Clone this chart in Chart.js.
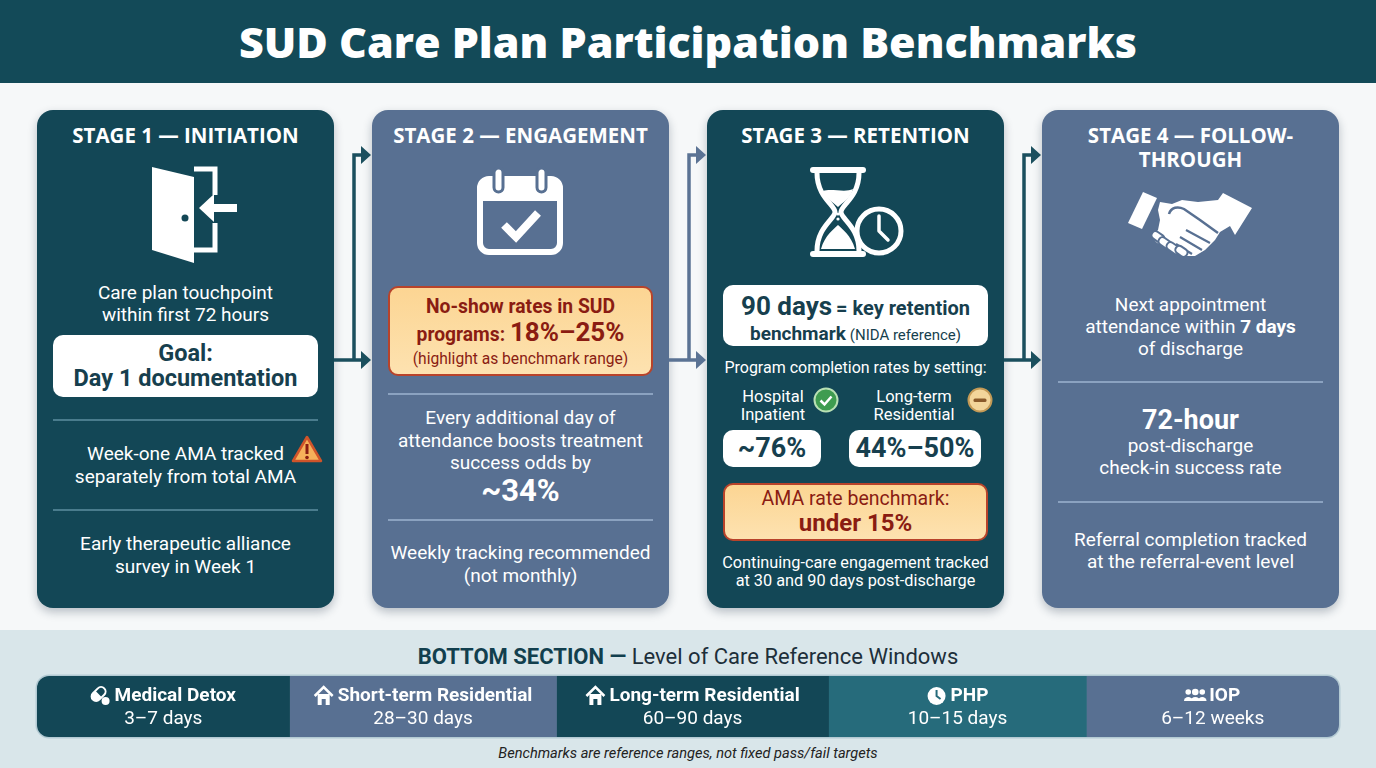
<!DOCTYPE html>
<html>
<head>
<meta charset="utf-8">
<script src="https://cdn.jsdelivr.net/npm/chart.js@4.4.1/dist/chart.umd.min.js"></script>
<style>
  body { margin:0; width:1376px; height:768px; background:#f6f8f9; font-family:Roboto, "Noto Sans", sans-serif; position:relative; overflow:hidden; }
  .header { position:absolute; left:0; top:0; width:1376px; height:83px; background:#134a58; }
  .title { color:#fff; font:800 43px "Open Sans", sans-serif; text-align:center; line-height:84px; }
  .card { position:absolute; top:110px; width:297px; height:498px; border-radius:16px; box-shadow:0 4px 10px rgba(20,40,60,.28); color:#fff; }
  .dark { background:#134756; }
  .slate { background:#587092; }
  .t { position:absolute; left:0; width:100%; text-align:center; }
  .head { font:700 20.5px "Open Sans", sans-serif; line-height:24px; top:13px; }
  .body { font-size:19px; line-height:22px; }
  .rule { position:absolute; left:16px; width:265px; height:2px; }
  .dark .rule { background:#4a7c8d; }
  .slate .rule { background:#8ba2c0; }
  .box { position:absolute; left:16px; width:265px; border-radius:10px; text-align:center; }
  .white { background:#fff; color:#173f4e; }
  .orange { background:linear-gradient(#fcd593, #fde2b0); border:2.5px solid #b8432a; color:#8a1c12; box-sizing:border-box; }
  .band { position:absolute; left:0; top:630px; width:1376px; height:138px; background:#d9e6ea; }
  svg { position:absolute; }
</style>
</head>
<body>
<div class="header"><div class="title">SUD Care Plan Participation Benchmarks</div></div>

<!-- stage 1 -->
<div class="card dark" style="left:37px">
  <div class="t head">STAGE 1 — INITIATION</div>
  <svg style="left:108px;top:55px" width="100" height="100" viewBox="0 0 100 100">
    <polygon points="7,2 49,12 49,98 7,85" fill="#fff"/>
    <circle cx="40" cy="53" r="3.5" fill="#134756"/>
    <path d="M49,4 H70 V30 M70,58 V85 H49" stroke="#fff" stroke-width="5" fill="none"/>
    <line x1="92" y1="43" x2="64" y2="43" stroke="#fff" stroke-width="8"/>
    <polygon points="54,43 69,29 69,57" fill="#fff"/>
  </svg>
  <div class="t body" style="top:172px">Care plan touchpoint<br>within first 72 hours</div>
  <div class="box white" style="top:225px;height:62px">
    <div style="font-weight:700;font-size:23.5px;line-height:25px;padding-top:6px">Goal:<br>Day 1 documentation</div>
  </div>
  <div class="rule" style="top:309px"></div>
  <div class="t body" style="top:332px;line-height:23px">Week-one AMA tracked<br>separately from total AMA</div>
  <svg style="left:254px;top:325px" width="32" height="28" viewBox="0 0 32 28">
    <polygon points="16,2 30,26 2,26" fill="#f6b05a" stroke="#d0542a" stroke-width="2.5" stroke-linejoin="round"/>
    <rect x="14.5" y="9" width="3" height="10" fill="#8a1c12"/>
    <circle cx="16" cy="22.5" r="1.8" fill="#8a1c12"/>
  </svg>
  <div class="rule" style="top:399px"></div>
  <div class="t body" style="top:422px;line-height:23px">Early therapeutic alliance<br>survey in Week 1</div>
</div>

<!-- stage 2 -->
<div class="card slate" style="left:372px">
  <div class="t head">STAGE 2 — ENGAGEMENT</div>
  <svg style="left:105px;top:57px" width="86" height="88" viewBox="0 0 86 88">
    <rect x="3" y="12" width="80" height="73" rx="9" stroke="#fff" stroke-width="6" fill="none"/>
    <rect x="3" y="12" width="80" height="22" rx="9" fill="#fff"/>
    <rect x="3" y="22" width="80" height="12" fill="#fff"/>
    <rect x="17" y="1" width="9" height="24" rx="4.5" fill="#fff" stroke="#587092" stroke-width="3"/>
    <rect x="60" y="1" width="9" height="24" rx="4.5" fill="#fff" stroke="#587092" stroke-width="3"/>
    <polyline points="27,58 39,70 61,46" stroke="#fff" stroke-width="8" fill="none"/>
  </svg>
  <div class="box orange" style="top:176px;height:90px">
    <div style="font-weight:700;font-size:19.3px;line-height:22px;padding-top:8px">No-show rates in SUD</div>
    <div style="font-weight:700;font-size:19.3px;line-height:28px">programs: <span style="font-size:26px">18%–25%</span></div>
    <div style="font-size:15.6px;line-height:20px">(highlight as benchmark range)</div>
  </div>
  <div class="rule" style="top:283px"></div>
  <div class="t body" style="top:297px;line-height:22.5px">Every additional day of<br>attendance boosts treatment<br>success odds by</div>
  <div class="t" style="top:365px;font-weight:700;font-size:31px;line-height:32px">~34%</div>
  <div class="rule" style="top:409px"></div>
  <div class="t body" style="top:431px;line-height:23px">Weekly tracking recommended<br>(not monthly)</div>
</div>

<!-- stage 3 -->
<div class="card dark" style="left:707px">
  <div class="t head">STAGE 3 — RETENTION</div>
  <svg style="left:99px;top:57px" width="100" height="92" viewBox="0 0 100 92">
    <rect x="4" y="0" width="56" height="6" rx="3" fill="#fff"/>
    <rect x="4" y="84" width="56" height="6" rx="3" fill="#fff"/>
    <path d="M11,6 C11,30 29,38 29,45 C29,52 11,60 11,84 M53,6 C53,30 35,38 35,45 C35,52 53,60 53,84" stroke="#fff" stroke-width="5" fill="none"/>
    <path d="M17,24 C25,21 39,26 47,22 C45,31 36,36 32,40 C28,36 19,31 17,24 Z" fill="#fff"/>
    <path d="M15,82 C19,68 28,62 32,58 C36,62 45,68 49,82 Z" fill="#fff"/>
    <circle cx="32" cy="47" r="1.6" fill="#fff"/><circle cx="32" cy="52" r="1.6" fill="#fff"/>
    <circle cx="73" cy="64" r="22" fill="#134756" stroke="#fff" stroke-width="5"/>
    <path d="M73,64 V49 M73,64 L82,73" stroke="#fff" stroke-width="3.5" stroke-linecap="round"/>
  </svg>
  <div class="box white" style="top:175px;height:61px;font-weight:700">
    <div style="line-height:28px;padding-top:7px"><span style="font-size:26px">90 days</span> <span style="font-size:20px">= key retention</span></div>
    <div style="line-height:20px"><span style="font-size:19px">benchmark</span> <span style="font-size:15px;font-weight:400">(NIDA reference)</span></div>
  </div>
  <div class="t" style="top:248px;font-size:16px;line-height:20px">Program completion rates by setting:</div>
  <div style="position:absolute;left:16px;width:100px;top:278px;text-align:center;font-size:16.5px;line-height:18px">Hospital<br>Inpatient</div>
  <svg style="left:106px;top:277px" width="26" height="26" viewBox="0 0 26 26">
    <circle cx="13" cy="13" r="11.5" fill="#3f9c50" stroke="#b9e0b4" stroke-width="2"/>
    <polyline points="7.5,13.5 11.5,17.5 18.5,9.5" stroke="#fff" stroke-width="2.5" fill="none"/>
  </svg>
  <div style="position:absolute;left:147px;width:120px;top:278px;text-align:center;font-size:16.5px;line-height:18px">Long-term<br>Residential</div>
  <svg style="left:260px;top:277px" width="26" height="26" viewBox="0 0 26 26">
    <circle cx="13" cy="13" r="11.5" fill="#f3d59a" stroke="#c49a56" stroke-width="2"/>
    <rect x="6.5" y="11.5" width="13" height="3.5" rx="1.5" fill="#8a5a2a"/>
  </svg>
  <div class="box white" style="top:320px;left:16px;width:98px;height:37px;font-weight:700;font-size:27px;line-height:37px">~76%</div>
  <div class="box white" style="top:320px;left:142px;width:132px;height:37px;font-weight:700;font-size:27px;line-height:37px">44%–50%</div>
  <div class="box orange" style="top:373px;height:58px">
    <div style="font-size:19.5px;line-height:22px;padding-top:3px">AMA rate benchmark:</div>
    <div style="font-weight:700;font-size:24px;line-height:26px">under 15%</div>
  </div>
  <div class="t" style="top:444px;font-size:16.3px;line-height:18px">Continuing-care engagement tracked<br>at 30 and 90 days post-discharge</div>
</div>

<!-- stage 4 -->
<div class="card slate" style="left:1042px">
  <div class="t head">STAGE 4 — FOLLOW-<br>THROUGH</div>
  <svg style="left:78px;top:70px" width="145" height="95" viewBox="0 0 145 95">
    <polygon points="8,43 23,12 37,18 22,49" fill="#fff"/>
    <polygon points="40,22 52,24 62,20 78,22 98,20 103,13 132,28 115,55 110,46 100,52 95,60 85,70 75,76 65,76 55,72 45,68 36,62 32,56 38,50 40,40 38,30" fill="#fff"/>
    <path d="M49,34 C51,27 58,26 64,29 L80,40 L98,53" stroke="#587092" stroke-width="2.5" fill="none"/>
    <path d="M66,50 L90,63 M60,57 L82,70 M56,64 L72,74" stroke="#587092" stroke-width="2.2" fill="none"/>
    <g fill="#fff" stroke="#587092" stroke-width="2">
      <rect x="31" y="53" width="14" height="8" rx="4" transform="rotate(35 38 57)"/>
      <rect x="38" y="59" width="15" height="8" rx="4" transform="rotate(35 45 63)"/>
      <rect x="46" y="64" width="15" height="8" rx="4" transform="rotate(35 53 68)"/>
      <rect x="55" y="67" width="13" height="8" rx="4" transform="rotate(35 61 71)"/>
    </g>
  </svg>
  <div class="t body" style="top:184px">Next appointment<br>attendance within <b>7 days</b><br>of discharge</div>
  <div class="rule" style="top:271px"></div>
  <div class="t" style="top:295px;font-weight:700;font-size:27px;line-height:30px">72-hour</div>
  <div class="t body" style="top:325px">post-discharge<br>check-in success rate</div>
  <div class="rule" style="top:391px"></div>
  <div class="t body" style="top:419px">Referral completion tracked<br>at the referral-event level</div>
</div>

<!-- connectors -->
<svg style="left:0;top:0" width="1376" height="620">
  <g stroke="#1b4f5e" stroke-width="3.5" fill="none"><path d="M334,360 H362 M354,360 V155 H362"/></g>
  <g fill="#1b4f5e"><polygon points="361,351 371,360 361,369"/><polygon points="361,146 371,155 361,164"/></g>
  <g stroke="#5b7394" stroke-width="3.5" fill="none"><path d="M669,360 H697 M689,360 V155 H697"/></g>
  <g fill="#5b7394"><polygon points="696,351 706,360 696,369"/><polygon points="696,146 706,155 696,164"/></g>
  <g stroke="#1b4f5e" stroke-width="3.5" fill="none"><path d="M1004,360 H1032 M1024,360 V155 H1032"/></g>
  <g fill="#1b4f5e"><polygon points="1031,351 1041,360 1031,369"/><polygon points="1031,146 1041,155 1031,164"/></g>
</svg>

<div class="band"></div>
<div style="position:absolute;left:0;top:644px;width:1376px;text-align:center;font-size:22px;line-height:26px;color:#1d2f3a"><b style="color:#123f4e">BOTTOM SECTION —</b> Level of Care Reference Windows</div>
<div style="position:absolute;left:37px;top:676px;width:1302px;height:61px;border-radius:12px;overflow:hidden;box-shadow:0 0 0 1.5px #b3cad3">
  <canvas id="strip" width="1302" height="61"></canvas>
</div>
<div style="position:absolute;left:0;top:743px;width:1376px;text-align:center;font-size:14.6px;font-style:italic;line-height:20px;color:#222">Benchmarks are reference ranges, not fixed pass/fail targets</div>

<script>
// level of care reference windows (bottom strip)
const careLevels = ['Medical Detox', 'Short-term Residential', 'Long-term Residential', 'PHP', 'IOP'];
const careWindows = ['3–7 days', '28–30 days', '60–90 days', '10–15 days', '6–12 weeks'];
const careShare = [19.4, 20.5, 20.9, 19.8, 19.4];

const segColors = ['#134756', '#587092', '#134756', '#266b7b', '#587092'];
const segIcons = ['pill', 'house', 'house', 'clock', 'people'];

function drawIcon(ctx, kind, x, y, bg) {
    ctx.save();
    ctx.fillStyle = '#fff';
    ctx.strokeStyle = '#fff';
    if (kind === 'pill') {
        ctx.save();
        ctx.translate(x - 2, y - 2);
        ctx.rotate(-Math.PI / 4);
        ctx.beginPath(); ctx.roundRect(-8, -4.5, 16, 9, 4.5); ctx.lineWidth = 2; ctx.stroke();
        ctx.beginPath(); ctx.roundRect(-8, -4.5, 8, 9, [4.5, 0, 0, 4.5]); ctx.fill();
        ctx.restore();
        ctx.beginPath(); ctx.arc(x + 5, y + 5, 4, 0, Math.PI * 2); ctx.fill();
    } else if (kind === 'house') {
        ctx.lineWidth = 2.5;
        ctx.beginPath(); ctx.moveTo(x - 9, y); ctx.lineTo(x, y - 9); ctx.lineTo(x + 9, y); ctx.stroke();
        ctx.fillRect(x - 6, y - 2, 12, 11);
        ctx.fillStyle = bg; ctx.fillRect(x - 2, y + 3, 4, 6);
    } else if (kind === 'clock') {
        ctx.beginPath(); ctx.arc(x, y, 9, 0, Math.PI * 2); ctx.fill();
        ctx.strokeStyle = bg; ctx.lineWidth = 2;
        ctx.beginPath(); ctx.moveTo(x, y - 6); ctx.lineTo(x, y); ctx.lineTo(x + 4, y + 3); ctx.stroke();
    } else {
        [[-7, 2.8], [0, 3.3], [7, 2.8]].forEach(([dx, r]) => {
            ctx.beginPath(); ctx.arc(x + dx, y - 4, r, 0, Math.PI * 2); ctx.fill();
            ctx.beginPath(); ctx.ellipse(x + dx, y + 5, r + 1.5, 4, 0, Math.PI, 0); ctx.fill();
        });
    }
    ctx.restore();
}

const stripLabels = {
    id: 'stripLabels',
    afterDatasetsDraw(chart) {
        const ctx = chart.ctx;
        chart.data.datasets.forEach((ds, i) => {
            const bar = chart.getDatasetMeta(i).data[0];
            const cx = (bar.x + bar.base) / 2;
            ctx.save();
            ctx.textBaseline = 'middle';
            ctx.fillStyle = '#fff';
            ctx.font = 'bold 19px Roboto';
            const w = ctx.measureText(careLevels[i]).width;
            const left = cx - (w + 24) / 2;
            drawIcon(ctx, segIcons[i], left + 10, 20, ds.backgroundColor);
            ctx.fillStyle = '#fff';
            ctx.textAlign = 'left';
            ctx.fillText(careLevels[i], left + 24, 20);
            ctx.font = '19px Roboto';
            ctx.textAlign = 'center';
            ctx.fillText(careWindows[i], cx, 43);
            ctx.restore();
        });
    }
};

document.fonts.load('bold 19px Roboto').then(function () {
    const ctx = document.getElementById('strip').getContext('2d');
    new Chart(ctx, {
        type: 'bar',
        data: {
            labels: [''],
            datasets: careLevels.map((name, i) => ({
                label: name,
                data: [careShare[i]],
                backgroundColor: segColors[i],
                borderWidth: 0,
                barPercentage: 1,
                categoryPercentage: 1
            }))
        },
        options: {
            indexAxis: 'y',
            responsive: false,
            animation: false,
            layout: { padding: 0 },
            scales: {
                x: { stacked: true, display: false, min: 0, max: careShare.reduce((a, b) => a + b, 0) },
                y: { stacked: true, display: false }
            },
            plugins: { legend: { display: false }, tooltip: { enabled: false } }
        },
        plugins: [stripLabels]
    });
});
</script>
</body>
</html>
